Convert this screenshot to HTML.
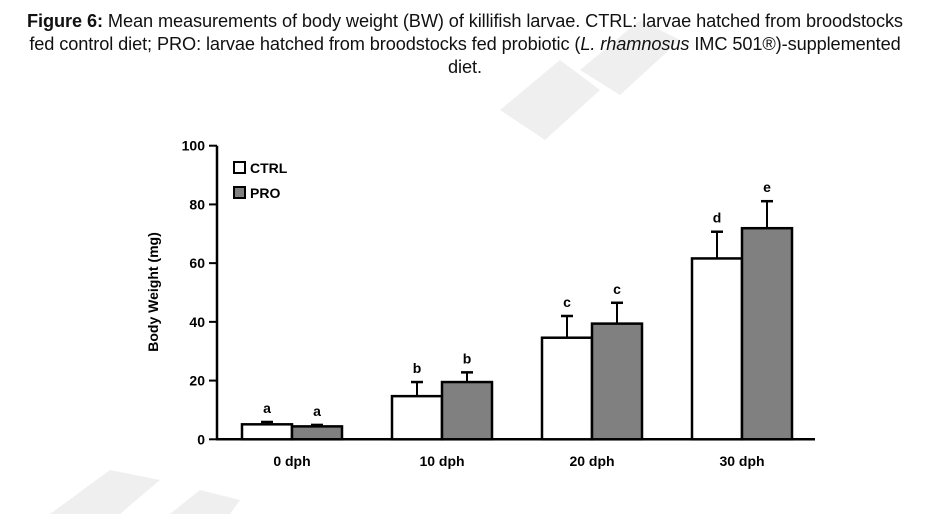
<!DOCTYPE html>
<html><head><meta charset="utf-8">
<style>
html,body{margin:0;padding:0;background:#fff;width:930px;height:514px;overflow:hidden}
.cap{position:absolute;left:0;top:10px;width:930px;text-align:center;font-family:"Liberation Sans",sans-serif;font-size:18.2px;letter-spacing:-0.1px;line-height:23px;color:#111;z-index:2}
svg{position:absolute;left:0;top:0;z-index:1}
</style></head><body>
<div class="cap"><b>Figure 6:</b> Mean measurements of body weight (BW) of killifish larvae. CTRL: larvae hatched from broodstocks<br>fed control diet; PRO: larvae hatched from broodstocks fed probiotic (<i>L. rhamnosus</i> IMC 501®)-supplemented<br>diet.</div>
<svg width="930" height="514" id="chart" font-family="Liberation Sans, sans-serif">
<g fill="#efefef">
<polygon points="500,110 560,60 600,90 545,140"/>
<polygon points="580,70 640,20 680,40 620,95"/>
<polygon points="50,514 110,470 160,480 120,514"/>
<polygon points="170,514 200,490 240,500 230,514"/>
</g>
</svg>
<script>
const categories=["0 dph","10 dph","20 dph","30 dph"];
const ctrlValues=[5.1,14.7,34.6,61.6];
const proValues=[4.4,19.5,39.4,71.9];
const ctrlErr=[0.8,4.8,7.4,9.1];
const proErr=[0.5,3.3,7.1,9.2];
const ctrlLetters=["a","b","c","d"];
const proLetters=["a","b","c","e"];
const yTicks=[0,20,40,60,80,100];
const NS="http://www.w3.org/2000/svg";
const svg=document.getElementById('chart');
const x0=217,y0=439.3,yTop=145.7;
const y=v=>y0-(v/100)*(y0-yTop);
const groupX=i=>292+i*150;
function el(t,a,p){const e=document.createElementNS(NS,t);for(const k in a)e.setAttribute(k,a[k]);(p||svg).appendChild(e);return e;}
const ya=el('line',{x1:x0,y1:yTop,x2:x0,y2:y0,stroke:'#000','stroke-width':2.5});


const xa=el('line',{x1:x0-1,y1:y0,x2:815,y2:y0,stroke:'#000','stroke-width':2.5});


yTicks.forEach(t=>{
 const tk=el('line',{x1:x0-8,y1:y(t),x2:x0,y2:y(t),stroke:'#000','stroke-width':2});
 
 
 const tl=el('text',{x:x0-12,y:y(t)+5,'text-anchor':'end','font-size':14,'font-weight':'bold'});
 tl.textContent=t;
 
 
});
const yt=el('text',{x:0,y:0,transform:'translate(158,292) rotate(-90)','text-anchor':'middle','font-size':14,'font-weight':'bold'});
yt.textContent='Body Weight (mg)';


const bw=50;
categories.forEach((c,i)=>{
 const gx=groupX(i);
 [[ctrlValues,ctrlErr,ctrlLetters,'#fff',gx-bw,'ctrl'],[proValues,proErr,proLetters,'#808080',gx,'pro']].forEach(([vals,errs,lets,fill,bx,nm])=>{
  const v=vals[i],e=errs[i],cx=bx+bw/2;
  const eb=el('line',{x1:cx,y1:y(v),x2:cx,y2:y(v+e),stroke:'#000','stroke-width':2});
  
  
  const cp=el('line',{x1:cx-6,y1:y(v+e),x2:cx+6,y2:y(v+e),stroke:'#000','stroke-width':2.5});
  
  
  const r=el('rect',{x:bx,y:y(v),width:bw,height:y0-y(v),fill:fill,stroke:'#000','stroke-width':2.5});
  
  
  const lt=el('text',{x:cx,y:y(v+e)-9,'text-anchor':'middle','font-size':14,'font-weight':'bold'});
  lt.textContent=lets[i];
  
  
 });
 const xl=el('text',{x:gx,y:466,'text-anchor':'middle','font-size':14,'font-weight':'bold'});
 xl.textContent=c;
 
 
});
[['CTRL','#fff',168],['PRO','#808080',193]].forEach(([n,f,ly])=>{
 const r=el('rect',{x:234,y:ly-6,width:11,height:11,fill:f,stroke:'#000','stroke-width':2});
 
 
 const t=el('text',{x:250,y:ly+5,'font-size':14,'font-weight':'bold'});
 t.textContent=n;
 
 
});
</script>
</body></html>
